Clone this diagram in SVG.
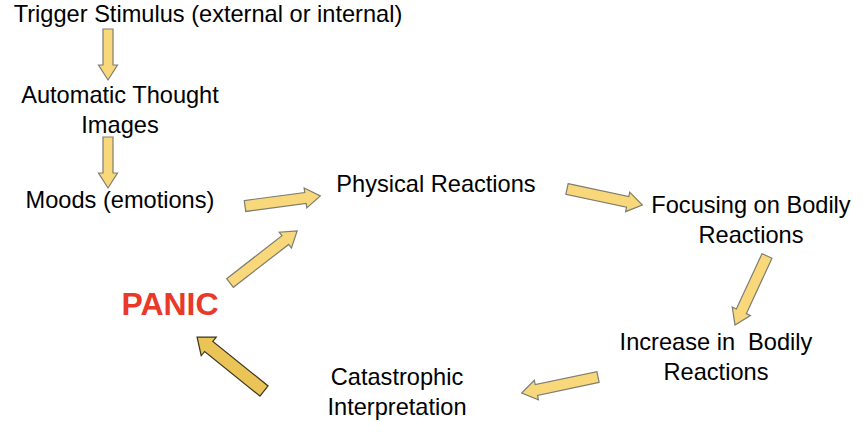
<svg xmlns="http://www.w3.org/2000/svg" width="864" height="444" viewBox="0 0 864 444">
<style>
text{font-family:"Liberation Sans",Arial,sans-serif;font-size:23.6px;fill:#000;text-anchor:middle}
.arr{fill:#f9d87c;stroke:#7d7d70;stroke-width:1.2;stroke-linejoin:miter}
.big{fill:#eac457;stroke:#3a3520;stroke-width:1.2}
.panic{fill:#e8392a;font-weight:bold;font-size:32px}
</style>
<rect width="864" height="444" fill="#fff"/>
<g id="connectors">
<path class="arr" transform="translate(108,29) rotate(90)" d="M0,-5 L36,-5 L36,-9.5 L51,0 L36,9.5 L36,5 L0,5 Z"/>
<path class="arr" transform="translate(108,137) rotate(90)" d="M0,-5 L36,-5 L36,-9.5 L51,0 L36,9.5 L36,5 L0,5 Z"/>
<path class="arr" transform="translate(245,206) rotate(-7.6)" d="M0,-5.5 L61,-5.5 L61,-10 L76,0 L61,10 L61,5.5 L0,5.5 Z"/>
<path class="arr" transform="translate(230,283) rotate(-37.8)" d="M0,-5.5 L70,-5.5 L70,-10 L85,0 L70,10 L70,5.5 L0,5.5 Z"/>
<path class="arr big" transform="translate(264,391) rotate(218.9)" d="M0,-6.5 L71,-6.5 L71,-12 L86,0 L71,12 L71,6.5 L0,6.5 Z"/>
<path class="arr" transform="translate(567,189) rotate(12)" d="M0,-5.5 L62,-5.5 L62,-10 L77,0 L62,10 L62,5.5 L0,5.5 Z"/>
<path class="arr" transform="translate(767,256) rotate(114.9)" d="M0,-5.5 L61,-5.5 L61,-10 L76,0 L61,10 L61,5.5 L0,5.5 Z"/>
<path class="arr" transform="translate(598,377) rotate(168.1)" d="M0,-5.5 L63,-5.5 L63,-10 L78,0 L63,10 L63,5.5 L0,5.5 Z"/>
</g>
<g id="trigger"><text x="208" y="22">Trigger Stimulus (external or internal)</text></g>
<g id="automatic"><text x="120" y="103">Automatic Thought</text><text x="120" y="133">Images</text></g>
<g id="moods"><text x="120" y="208">Moods (emotions)</text></g>
<g id="physical"><text x="436" y="192">Physical Reactions</text></g>
<g id="focusing"><text x="751" y="213">Focusing on Bodily</text><text x="751" y="243">Reactions</text></g>
<g id="increase"><text x="716" y="350" xml:space="preserve">Increase in  Bodily</text><text x="716" y="380">Reactions</text></g>
<g id="catastrophic"><text x="397" y="385">Catastrophic</text><text x="397" y="415">Interpretation</text></g>
<g id="panic"><text class="panic" x="170" y="315">PANIC</text></g>
</svg>
